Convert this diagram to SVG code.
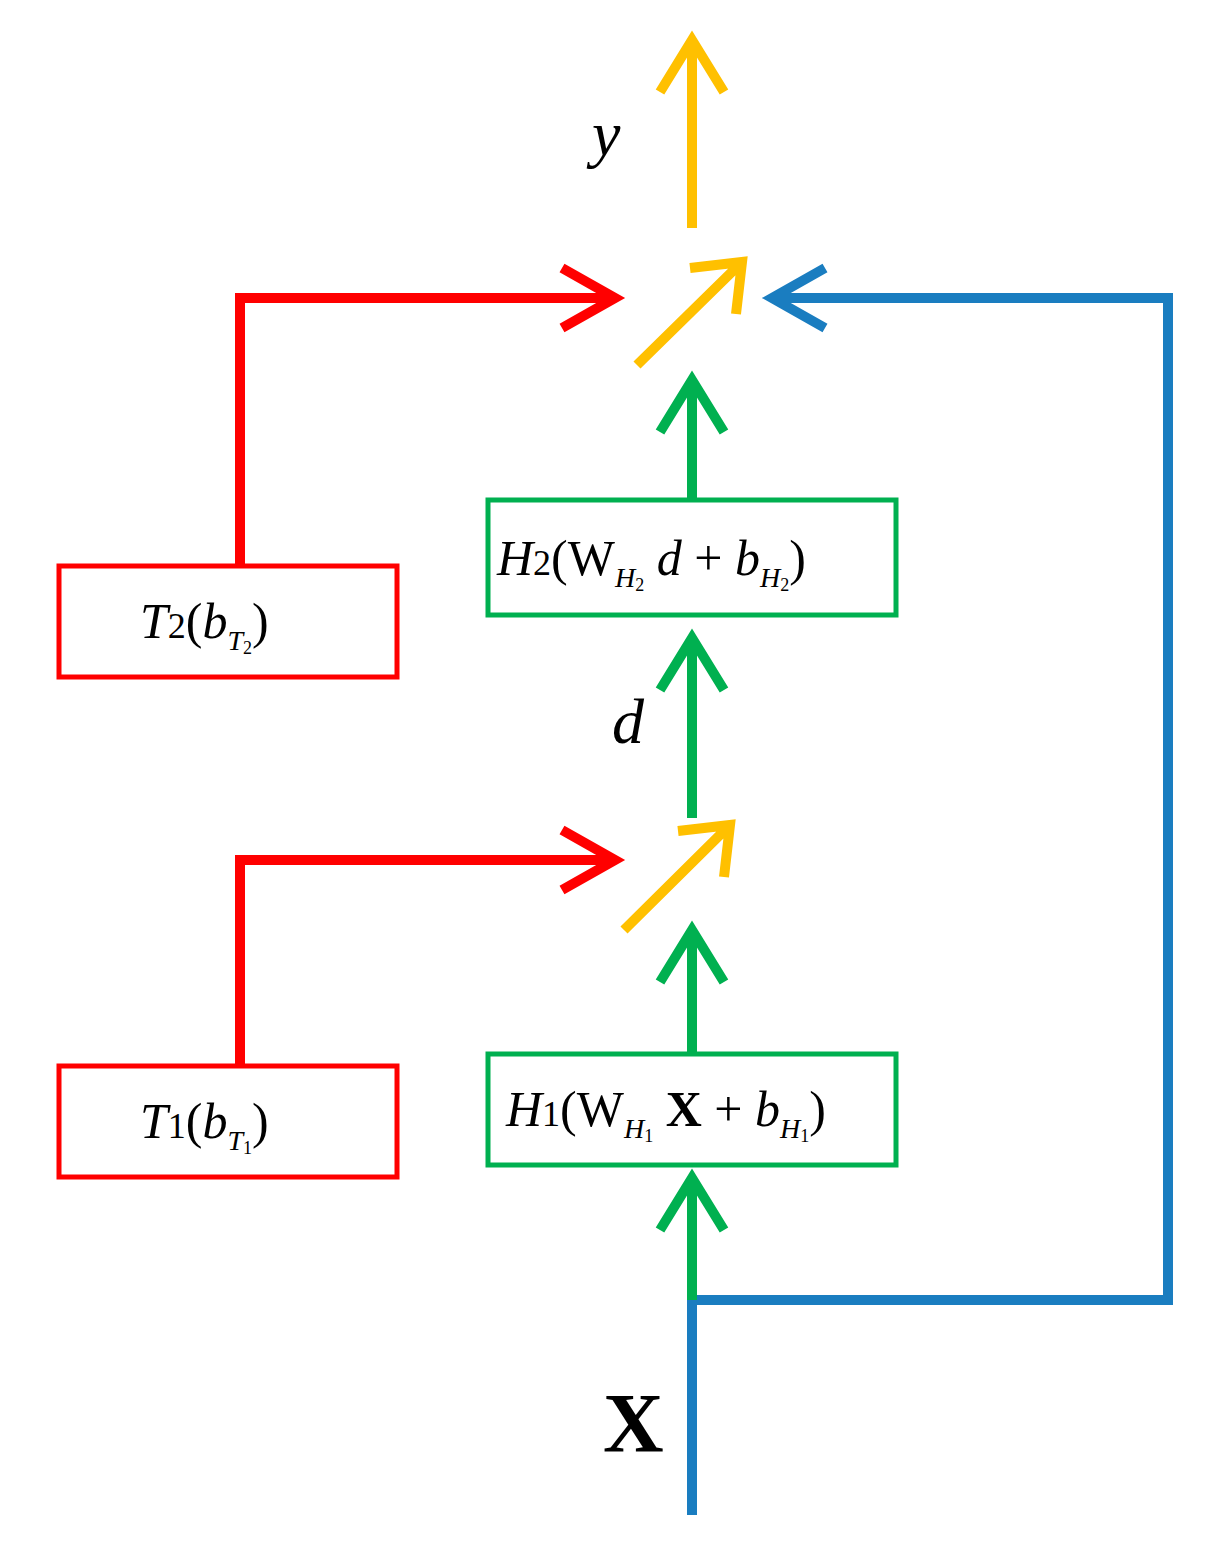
<svg xmlns="http://www.w3.org/2000/svg" width="1218" height="1545" viewBox="0 0 1218 1545">
<style>
.l{fill:none;stroke-width:10;stroke-linecap:butt;stroke-linejoin:miter}
.r{stroke:#ff0000}.g{stroke:#00b050}.b{stroke:#1a7dc0}.y{stroke:#ffc000}
.box{fill:#fff;stroke-width:5}
text{font-family:"Liberation Serif",serif;fill:#000}
.i{font-style:italic}
</style>
<rect width="1218" height="1545" fill="#fff"/>
<g id="connectors">
<path class="l y" d="M692 228V40M660 92L692 40L724 92"/>
<path class="l y" d="M637 365L742 262M690 268L742 262L736 314"/>
<path class="l y" d="M624 930L730 825M678 831L730 825L724 877"/>
<path class="l r" d="M240 565V298H615M562 268L615 298L562 328"/>
<path class="l r" d="M240 1065V860H615M562 830L615 860L562 890"/>
<path class="l b" d="M692 1515V1300H1168V298H772M825 268L772 298L825 328"/>
<path class="l g" d="M692 1300V1180M660 1230L692 1178L724 1230"/>
<path class="l g" d="M692 1053V930M660 982L692 930L724 982"/>
<path class="l g" d="M692 818V646M660 690L692 638L724 690"/>
<path class="l g" d="M692 499V380M660 432L692 380L724 432"/>
</g>
<g id="H2"><rect class="box g" x="488" y="500" width="408" height="115"/>
<text x="497" y="575" font-size="50"><tspan class="i">H</tspan><tspan font-size="36">2</tspan>(W<tspan class="i" font-size="28" dy="12">H</tspan><tspan font-size="18" dy="4">2</tspan><tspan class="i" dy="-16"> d</tspan> + <tspan class="i">b</tspan><tspan class="i" font-size="28" dy="12">H</tspan><tspan font-size="18" dy="4">2</tspan><tspan dy="-16">)</tspan></text></g>
<g id="H1"><rect class="box g" x="488" y="1054" width="408" height="111"/>
<text x="506" y="1126" font-size="50"><tspan class="i">H</tspan><tspan font-size="36">1</tspan>(W<tspan class="i" font-size="28" dy="12">H</tspan><tspan font-size="18" dy="4">1</tspan><tspan font-weight="bold" dy="-16"> X</tspan> + <tspan class="i">b</tspan><tspan class="i" font-size="28" dy="12">H</tspan><tspan font-size="18" dy="4">1</tspan><tspan dy="-16">)</tspan></text></g>
<g id="T2"><rect class="box r" x="59" y="566" width="338" height="111"/>
<text x="140" y="638" font-size="50"><tspan class="i">T</tspan><tspan font-size="36">2</tspan>(<tspan class="i">b</tspan><tspan class="i" font-size="28" dy="12">T</tspan><tspan font-size="18" dy="4">2</tspan><tspan dy="-16">)</tspan></text></g>
<g id="T1"><rect class="box r" x="59" y="1066" width="338" height="111"/>
<text x="140" y="1138" font-size="50"><tspan class="i">T</tspan><tspan font-size="36">1</tspan>(<tspan class="i">b</tspan><tspan class="i" font-size="28" dy="12">T</tspan><tspan font-size="18" dy="4">1</tspan><tspan dy="-16">)</tspan></text></g>
<text class="i" x="592" y="155" font-size="64">y</text>
<text class="i" x="612" y="743" font-size="64">d</text>
<text x="603" y="1452" font-size="84" font-weight="bold">X</text>
</svg>
